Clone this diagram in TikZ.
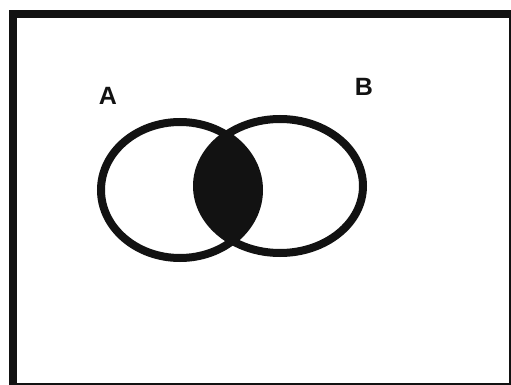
\documentclass[tikz,border=0pt]{standalone}
\usepackage{fontspec}
\setmainfont{Liberation Sans}
\usepackage{tikz}
\usetikzlibrary{positioning}
\definecolor{myink}{RGB}{18,18,18}
\tikzset{
  frameline/.style={draw=myink, line width=8pt},
  setline/.style={draw=myink, line width=8pt},
  setlabel/.style={font=\fontsize{25}{30}\selectfont\bfseries, color=myink, inner sep=0pt}
}

\begin{document}
\begin{tikzpicture}[x=1pt, y=-1pt]
  \useasboundingbox (0,0) rectangle (511,385);

  % Universe frame
  \draw[frameline] (13,14) rectangle (513,387);

  % Intersection (shaded)
  \begin{scope}
    \clip (180,190) ellipse [x radius=79, y radius=68];
    \fill[myink] (280,186) ellipse [x radius=83, y radius=67];
  \end{scope}

  % Set A and set B
  \draw[setline] (180,190) ellipse [x radius=79, y radius=68];
  \draw[setline] (280,186) ellipse [x radius=83, y radius=67];

  % Labels
  \node[setlabel] (labA) at (108,96) {A};
  \node[setlabel] (labB) at (364,87) {B};
\end{tikzpicture}
\end{document}
